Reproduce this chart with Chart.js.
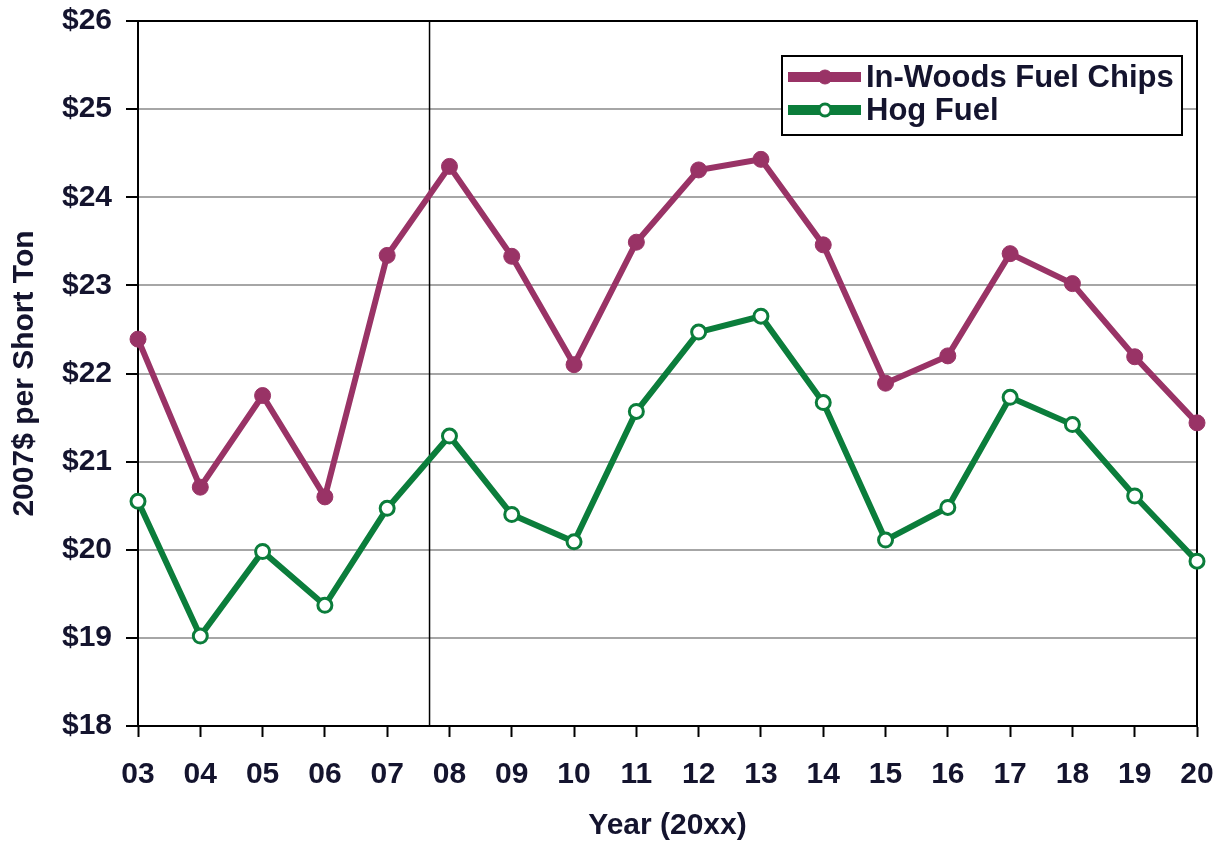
<!DOCTYPE html>
<html>
<head>
<meta charset="utf-8">
<script src="https://cdn.jsdelivr.net/npm/chart.js@4"></script>
<style>
    body { margin: 0; background: #fff; }
    #wrap { width: 1219px; height: 845px; }
</style>
</head>
<body>
<div id="wrap"><canvas id="priceChart" width="1219" height="845"></canvas></div>
<script>
// values
const years = [3, 4, 5, 6, 7, 8, 9, 10, 11, 12, 13, 14, 15, 16, 17, 18, 19, 20];
const inWoodsChips = [22.39, 20.71, 21.75, 20.6, 23.34, 24.35, 23.33, 22.1, 23.49, 24.31, 24.43, 23.46, 21.89, 22.2, 23.36, 23.02, 22.19, 21.44];
const hogFuel = [20.55, 19.02, 19.98, 19.37, 20.47, 21.29, 20.4, 20.09, 21.57, 22.47, 22.65, 21.67, 20.11, 20.48, 21.73, 21.42, 20.61, 19.87];
const yTicks = [18, 19, 20, 21, 22, 23, 24, 25, 26];
const markerYear = 7.68;

const purple = "#993366";
const green = "#0b7d3b";
const textColor = "#14142e";
const font = "'Liberation Sans', Arial, sans-serif";

const toPoints = (vals) => vals.map((v, i) => ({ x: years[i], y: v }));

// black frame on the top/right plus the vertical marker line
const framePlugin = {
    id: "frame",
    beforeDatasetsDraw(chart) {
        const { ctx, chartArea: a, scales } = chart;
        ctx.save();
        ctx.strokeStyle = "#000";
        ctx.lineWidth = 1.5;
        const mx = scales.x.getPixelForValue(markerYear);
        ctx.beginPath();
        ctx.moveTo(mx, a.top);
        ctx.lineTo(mx, a.bottom);
        ctx.stroke();
        ctx.lineWidth = 2;
        ctx.beginPath();
        ctx.moveTo(a.left, a.top);
        ctx.lineTo(a.right, a.top);
        ctx.lineTo(a.right, a.bottom);
        ctx.stroke();
        ctx.restore();
    },
};

// boxed legend inside the plot area
const boxLegend = {
    id: "boxLegend",
    afterDraw(chart) {
        const { ctx, chartArea: a } = chart;
        const left = a.right - 415, top = a.top + 35, w = 400, h = 79;
        ctx.save();
        ctx.fillStyle = "#fff";
        ctx.fillRect(left, top, w, h);
        ctx.strokeStyle = "#000";
        ctx.lineWidth = 2;
        ctx.strokeRect(left, top, w, h);
        chart.data.datasets.forEach((ds, i) => {
            const y = top + 21 + i * 33;
            ctx.strokeStyle = ds.borderColor;
            ctx.lineWidth = 10;
            ctx.beginPath();
            ctx.moveTo(left + 6, y);
            ctx.lineTo(left + 79, y);
            ctx.stroke();
            ctx.beginPath();
            ctx.arc(left + 43, y, ds.pointRadius - 1, 0, Math.PI * 2);
            ctx.fillStyle = ds.pointBackgroundColor;
            ctx.fill();
            ctx.lineWidth = ds.pointBorderWidth;
            ctx.strokeStyle = ds.pointBorderColor;
            ctx.stroke();
            ctx.fillStyle = textColor;
            ctx.font = `bold 31px ${font}`;
            ctx.textBaseline = "middle";
            ctx.fillText(ds.label, left + 84, y + 1);
        });
        ctx.restore();
    },
};

new Chart(document.getElementById("priceChart"), {
    type: "line",
    data: {
        datasets: [
            {
                label: "In-Woods Fuel Chips",
                data: toPoints(inWoodsChips),
                borderColor: purple,
                borderWidth: 6,
                pointRadius: 8,
                pointBackgroundColor: purple,
                pointBorderColor: purple,
                pointBorderWidth: 1,
                tension: 0,
                clip: false,
            },
            {
                label: "Hog Fuel",
                data: toPoints(hogFuel),
                borderColor: green,
                borderWidth: 6,
                pointRadius: 7,
                pointBackgroundColor: "#fff",
                pointBorderColor: green,
                pointBorderWidth: 3,
                tension: 0,
                clip: false,
            },
        ],
    },
    options: {
        responsive: false,
        animation: false,
        layout: { padding: { left: 0, right: 22, top: 21, bottom: 0 } },
        plugins: { legend: { display: false }, tooltip: { enabled: false } },
        scales: {
            x: {
                type: "linear",
                min: years[0],
                max: years[years.length - 1],
                afterFit: (s) => {
                    s.height = 119;
                    s.paddingLeft = 0;
                    s.paddingRight = 0;
                },
                afterBuildTicks: (s) => { s.ticks = years.map((v) => ({ value: v })); },
                ticks: {
                    padding: 20,
                    color: textColor,
                    font: { family: font, size: 30, weight: "bold" },
                    callback: (v) => String(v).padStart(2, "0"),
                },
                grid: { drawOnChartArea: false, tickColor: "#000", tickLength: 11, tickWidth: 2 },
                border: { color: "#000", width: 2 },
                title: {
                    display: true,
                    text: "Year (20xx)",
                    color: textColor,
                    font: { family: font, size: 30, weight: "bold", lineHeight: 1.2 },
                    padding: { bottom: 1 },
                },
            },
            y: {
                min: yTicks[0],
                max: yTicks[yTicks.length - 1],
                afterFit: (s) => {
                    s.width = 138;
                    s.paddingTop = 0;
                    s.paddingBottom = 0;
                },
                afterBuildTicks: (s) => { s.ticks = yTicks.map((v) => ({ value: v })); },
                ticks: {
                    padding: 14,
                    color: textColor,
                    font: { family: font, size: 30, weight: "bold" },
                    callback: (v) => "$" + v,
                },
                grid: {
                    color: (c) => (c.tick && c.tick.value === 26 ? "#222" : "#a6a6a6"),
                    lineWidth: 2,
                    tickColor: "#000",
                    tickLength: 12,
                    tickWidth: 2,
                },
                border: { color: "#000", width: 2 },
                title: {
                    display: true,
                    text: "2007$ per Short Ton",
                    color: textColor,
                    font: { family: font, size: 30, weight: "bold", lineHeight: 1.2 },
                    padding: { top: 7 },
                },
            },
        },
    },
    plugins: [framePlugin, boxLegend],
});
</script>
</body>
</html>
